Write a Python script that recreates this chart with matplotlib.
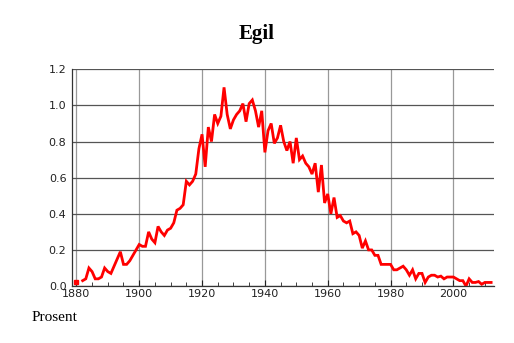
import numpy as np
import matplotlib.pyplot as plt
from matplotlib.ticker import MultipleLocator

years = np.arange(1880, 2013)
values = [0.02, np.nan, 0.03, 0.04, 0.10, 0.08, 0.04, 0.04, 0.05, 0.10,
          0.08, 0.07, 0.11, 0.15, 0.19, 0.12, 0.12, 0.14, 0.17, 0.20,
          0.23, 0.22, 0.22, 0.30, 0.26, 0.24, 0.33, 0.30, 0.28, 0.31,
          0.32, 0.35, 0.42, 0.43, 0.45, 0.58, 0.56, 0.58, 0.62, 0.76,
          0.84, 0.66, 0.88, 0.80, 0.95, 0.90, 0.94, 1.10, 0.95, 0.87,
          0.92, 0.95, 0.97, 1.01, 0.91, 1.01, 1.03, 0.97, 0.88, 0.97,
          0.74, 0.86, 0.90, 0.79, 0.82, 0.89, 0.80, 0.75, 0.80, 0.68,
          0.82, 0.70, 0.72, 0.68, 0.66, 0.62, 0.68, 0.52, 0.67, 0.46,
          0.51, 0.40, 0.49, 0.38, 0.39, 0.36, 0.35, 0.36, 0.29, 0.30,
          0.28, 0.21, 0.25, 0.20, 0.20, 0.17, 0.17, 0.12, 0.12, 0.12,
          0.12, 0.09, 0.09, 0.10, 0.11, 0.09, 0.06, 0.09, 0.04, 0.07,
          0.07, 0.02, 0.05, 0.06, 0.06, 0.05, 0.055, 0.04, 0.05, 0.05,
          0.05, 0.04, 0.03, 0.03, 0.00, 0.04, 0.02, 0.02, 0.025, 0.01,
          0.02, 0.02, 0.02]
values = np.array(values)
assert len(values) == len(years)

fig = plt.figure(figsize=(5.14, 3.43), dpi=100)
ax = fig.add_axes([0.140, 0.166, 0.821, 0.632])

ax.plot(years, values, color='red', lw=2.0, solid_joinstyle='miter')
# isolated first point
ax.plot(years[:1], values[:1], color='red', marker='s', ms=2.5, lw=0)

ax.set_xlim(1878.6, 2012.9)
ax.set_ylim(0, 1.2)
ax.xaxis.set_major_locator(MultipleLocator(20))
ax.xaxis.set_minor_locator(MultipleLocator(5))
ax.yaxis.set_major_locator(MultipleLocator(0.2))
ax.yaxis.set_major_formatter(plt.FormatStrFormatter('%.1f'))

ax.grid(axis='y', color='#555555', lw=0.9)
ax.grid(axis='x', color='#999999', lw=0.9)
ax.set_axisbelow(True)

for s in ['top', 'right']:
    ax.spines[s].set_visible(False)
ax.spines['left'].set_color('#333333')
ax.spines['bottom'].set_color('#333333')
ax.spines['left'].set_linewidth(0.9)
ax.spines['bottom'].set_linewidth(0.9)

ax.tick_params(axis='both', which='both', direction='in', labelsize=8,
               colors='#222222')
ax.tick_params(axis='x', which='major', length=4, pad=2)
ax.tick_params(axis='x', which='minor', length=3)
ax.tick_params(axis='y', length=0, pad=4)

fig.text(0.5, 0.90, 'Egil', ha='center', va='center', fontsize=15,
         fontweight='bold', family='Liberation Serif')
fig.text(0.062, 0.073, 'Prosent', ha='left', va='center', fontsize=11,
         family='Liberation Serif')

fig.savefig('out.png', dpi=100)
